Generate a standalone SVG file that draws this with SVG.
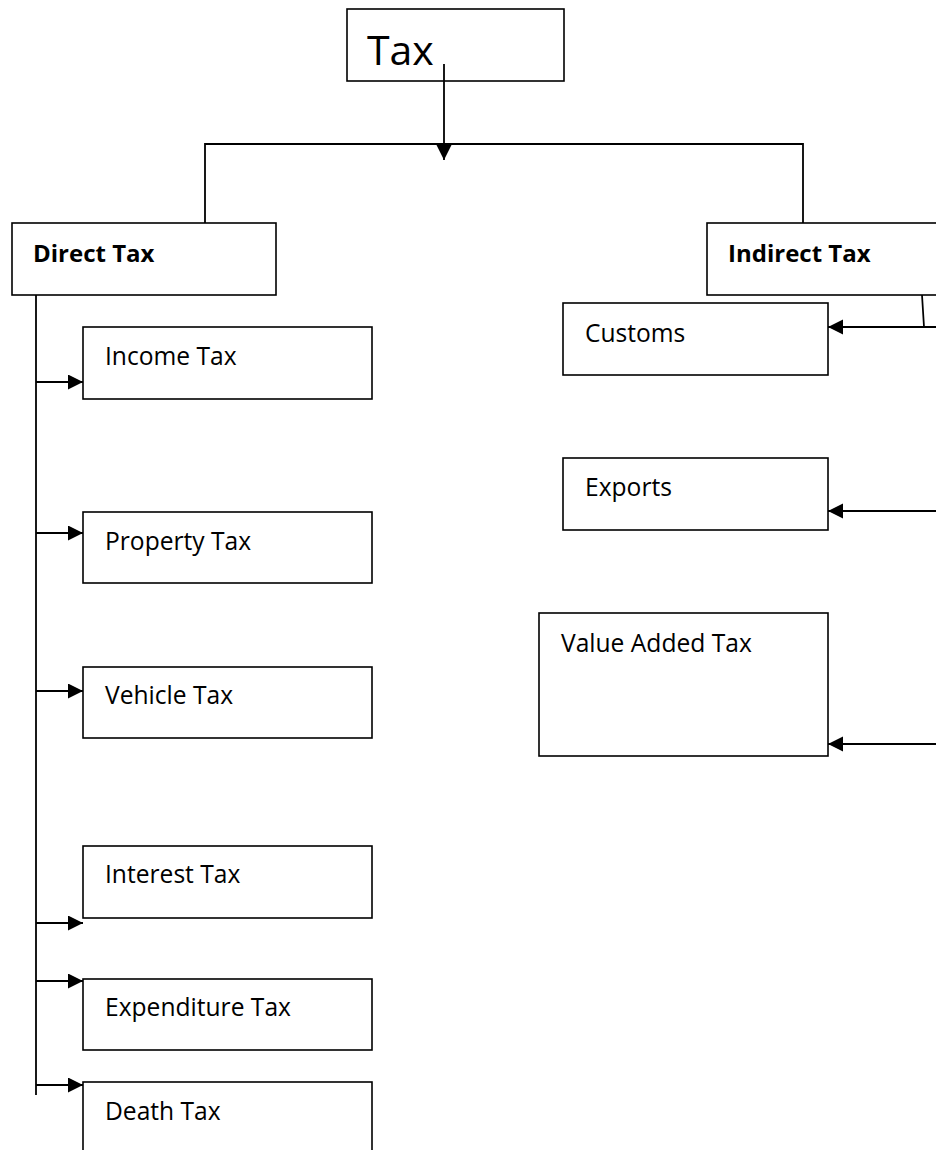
<svg xmlns="http://www.w3.org/2000/svg" width="936" height="1150" viewBox="0 0 936 1150">
<style>
.box{fill:#fff;stroke:#000;stroke-width:1.6}
.lbl{font-family:"Open Sans","Liberation Sans",sans-serif;font-size:24.6px;fill:#000}
.b{font-weight:bold;font-size:24px}
.c{fill:none;stroke:#000;stroke-width:1.8}
</style>
<defs>
<marker id="ah" markerUnits="userSpaceOnUse" markerWidth="16" markerHeight="16" refX="15" refY="7.5" orient="auto">
<path d="M0,0 L15,7.5 L0,15 z" fill="#000"/>
</marker>
</defs>
<rect width="936" height="1150" fill="#fff"/>
<g id="n-tax"><rect class="box" x="347" y="9" width="217" height="72"/><text class="lbl" x="367" y="65" style="font-size:41px">Tax</text></g>
<g id="n-direct"><rect class="box" x="12" y="223" width="264" height="72"/><text class="lbl b" x="33" y="262">Direct Tax</text></g>
<g id="n-indirect"><rect class="box" x="707" y="223" width="245" height="72"/><text class="lbl b" x="728" y="262">Indirect Tax</text></g>
<g id="n-income"><rect class="box" x="83" y="327" width="289" height="72"/><text class="lbl" x="105" y="365">Income Tax</text></g>
<g id="n-property"><rect class="box" x="83" y="512" width="289" height="71"/><text class="lbl" x="105" y="550">Property Tax</text></g>
<g id="n-vehicle"><rect class="box" x="83" y="667" width="289" height="71"/><text class="lbl" x="105" y="704">Vehicle Tax</text></g>
<g id="n-interest"><rect class="box" x="83" y="846" width="289" height="72"/><text class="lbl" x="105" y="883">Interest Tax</text></g>
<g id="n-expenditure"><rect class="box" x="83" y="979" width="289" height="71"/><text class="lbl" x="105" y="1016">Expenditure Tax</text></g>
<g id="n-death"><rect class="box" x="83" y="1082" width="289" height="80"/><text class="lbl" x="105" y="1120">Death Tax</text></g>
<g id="n-customs"><rect class="box" x="563" y="303" width="265" height="72"/><text class="lbl" x="585" y="342">Customs</text></g>
<g id="n-exports"><rect class="box" x="563" y="458" width="265" height="72"/><text class="lbl" x="585" y="496">Exports</text></g>
<g id="n-vat"><rect class="box" x="539" y="613" width="289" height="143"/><text class="lbl" x="561" y="652">Value Added Tax</text></g>
<g id="connectors">
<line class="c" x1="444" y1="64" x2="444" y2="160" marker-end="url(#ah)"/>
<polyline class="c" points="205,223 205,144 803,144 803,223"/>
<line class="c" x1="36" y1="295" x2="36" y2="1095"/>
<line class="c" x1="36" y1="382" x2="83" y2="382" marker-end="url(#ah)"/>
<line class="c" x1="36" y1="533" x2="83" y2="533" marker-end="url(#ah)"/>
<line class="c" x1="36" y1="691" x2="83" y2="691" marker-end="url(#ah)"/>
<line class="c" x1="36" y1="923" x2="83" y2="923" marker-end="url(#ah)"/>
<line class="c" x1="36" y1="981" x2="83" y2="981" marker-end="url(#ah)"/>
<line class="c" x1="36" y1="1085" x2="83" y2="1085" marker-end="url(#ah)"/>
<line class="c" x1="922" y1="295" x2="924" y2="327"/>
<line class="c" x1="940" y1="327" x2="828" y2="327" marker-end="url(#ah)"/>
<line class="c" x1="940" y1="511" x2="828" y2="511" marker-end="url(#ah)"/>
<line class="c" x1="940" y1="744" x2="828" y2="744" marker-end="url(#ah)"/>
</g>
</svg>
